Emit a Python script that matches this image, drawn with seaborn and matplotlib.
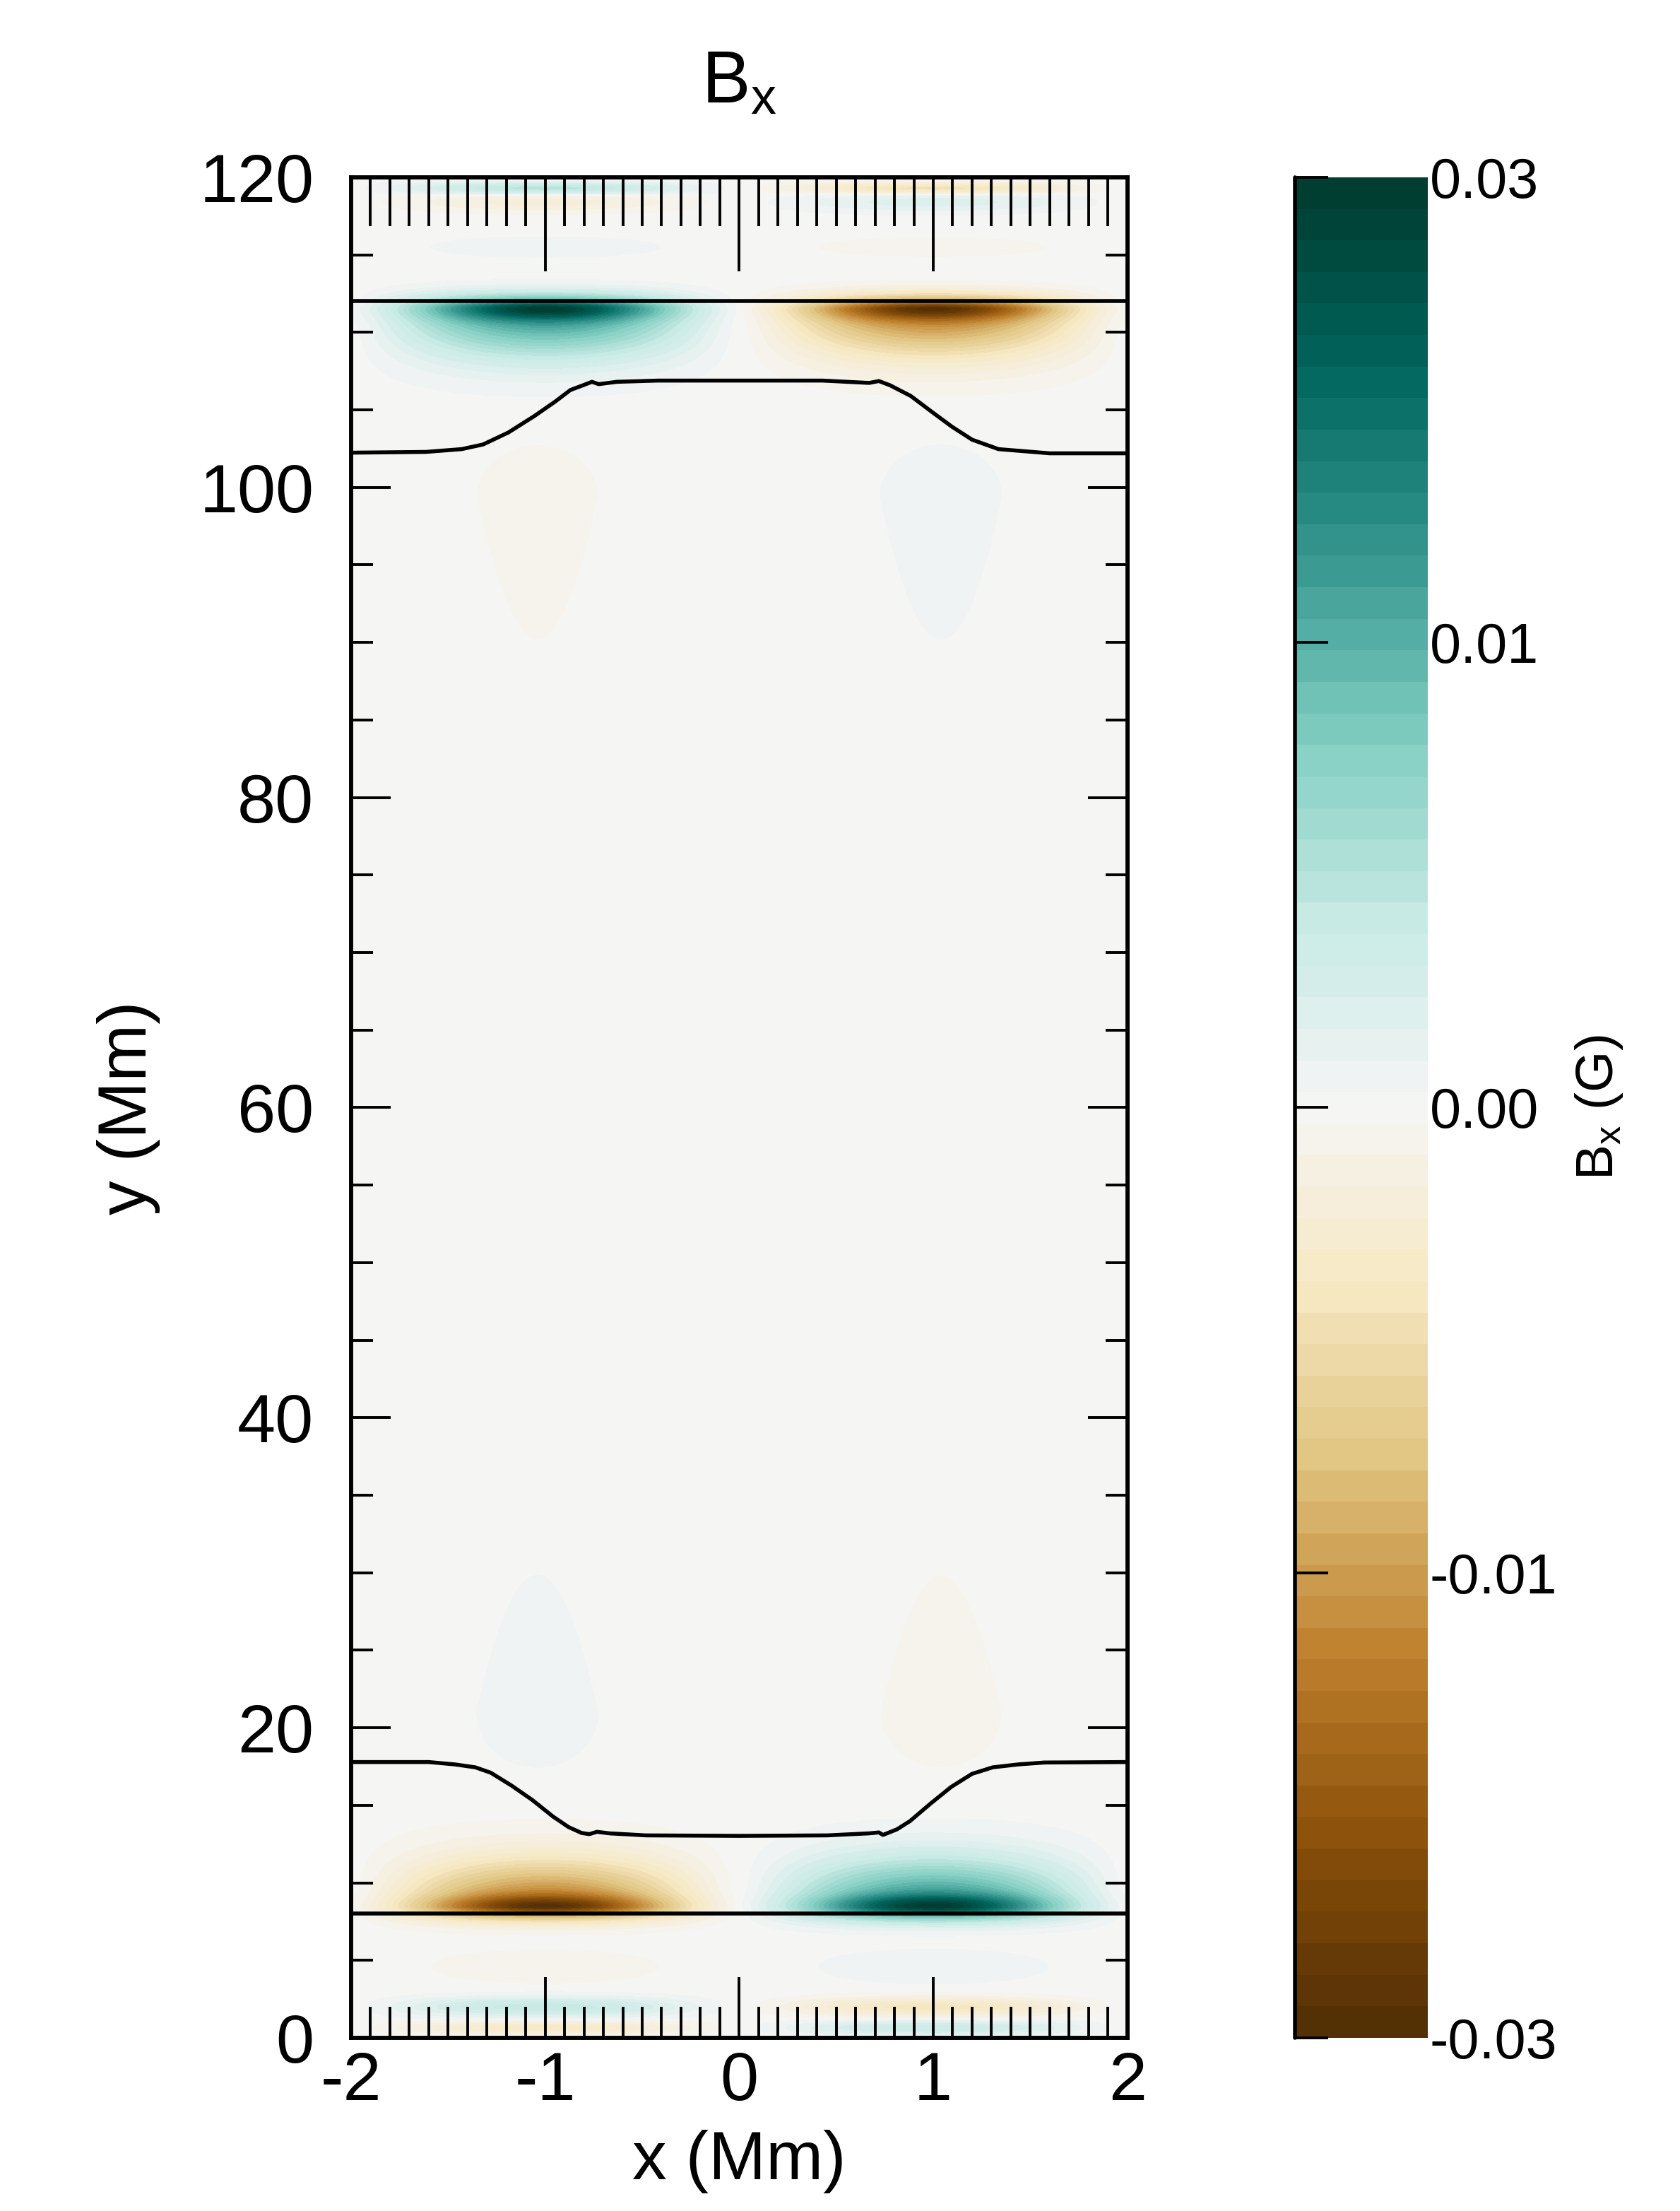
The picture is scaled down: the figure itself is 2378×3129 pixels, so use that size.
import numpy as np
import matplotlib
import matplotlib.pyplot as plt
import seaborn as sns
from matplotlib.colors import BoundaryNorm
from matplotlib.ticker import MultipleLocator

# ==============================
# Data
# ==============================
x_lim = [-2.0, 2.0]
y_lim = [0.0, 120.0]

# the two strong blob pairs next to the lower / upper boundary line
# (sharp core at x=+-1 plus a broad sin(pi x/2)|sin| part)
blob_y0 = [8.48, 111.52]
blob_amp = [0.0295, -0.0295]
blob_core_frac = [0.55, 0.55]
blob_core_sx = [0.45, 0.45]
blob_core_sdown = [0.4, 0.65]
blob_core_sup = [0.65, 0.4]
blob_broad_sdown = [0.8, 2.4]
blob_broad_sup = [2.4, 0.8]

# weak horizontal layers, each ~ amp * sin(pi x/2)|sin(pi x/2)| * gauss(dy)
# centre height (Mm), amplitude (G), width below / above (Mm)
layer_y0 = [4.6, 2.0, 0.65, 115.5, 118.4, 119.3]
layer_amp = [1.3e-4, -0.0025, 0.002, -1.3e-4, 8e-4, -0.003]
layer_sdown = [1.1, 0.5, 0.35, 0.65, 0.5, 0.3]
layer_sup = [1.1, 0.5, 0.35, 0.65, 0.5, 0.3]

# faint teardrops at x = +-1
drop_y0 = [21.0, 99.4]
drop_amp = [-1.5e-4, 1.5e-4]
drop_near = [3.3, 3.1]     # gaussian width toward the boundary
drop_far = [7.6, 7.9]      # e-folding length toward the middle
drop_x0 = 1.04
drop_sx = 0.29
drop_dir = [1, -1]         # +1: tail goes up, -1: tail goes down

# black contour lines
bound_y = [8.0, 112.0]
low_x = [-2.0, -1.6, -1.467, -1.36, -1.28, -1.173, -1.067, -0.96, -0.88, -0.813,
         -0.773, -0.733, -0.667, -0.48, 0.0, 0.453, 0.667, 0.72, 0.741, 0.813,
         0.88, 0.987, 1.093, 1.2, 1.307, 1.44, 1.573, 2.0]
low_y = [17.79, 17.79, 17.64, 17.45, 17.10, 16.27, 15.35, 14.28, 13.60, 13.22,
         13.14, 13.29, 13.19, 13.06, 13.03, 13.06, 13.19, 13.25, 13.09, 13.45,
         13.98, 15.12, 16.19, 17.03, 17.45, 17.64, 17.76, 17.79]
high_x = [-2.0, -1.615, -1.43, -1.32, -1.19, -1.056, -0.95, -0.87, -0.79, -0.759,
          -0.724, -0.631, -0.42, 0.0, 0.43, 0.67, 0.72, 0.777, 0.884, 0.99,
          1.096, 1.2, 1.336, 1.6, 2.0]
high_y = [102.24, 102.29, 102.47, 102.77, 103.54, 104.6, 105.52, 106.28, 106.66, 106.81,
          106.66, 106.81, 106.89, 106.89, 106.89, 106.74, 106.86, 106.59, 105.9, 104.9,
          103.92, 103.08, 102.47, 102.2, 102.2]

cbar_ticks = [-0.03, -0.01, 0.0, 0.01, 0.03]
cbar_labels = ['-0.03', '-0.01', '0.00', '0.01', '0.03']

# ==============================
# Field on a grid
# ==============================
x = np.linspace(x_lim[0], x_lim[1], 401)
y = np.linspace(y_lim[0], y_lim[1], 2401)
X, Y = np.meshgrid(x, y)
sx = np.sin(np.pi * X / 2)
prof = sx * np.abs(sx)


def side_gauss(dy, s_down, s_up):
    s = np.where(dy < 0, s_down, s_up)
    return np.exp(-(dy / s) ** 2)


bx = np.zeros_like(X)
for i in range(len(blob_y0)):
    dy = Y - blob_y0[i]
    core_x = (np.exp(-((X - 1) / blob_core_sx[i]) ** 2)
              - np.exp(-((X + 1) / blob_core_sx[i]) ** 2))
    core = core_x * side_gauss(dy, blob_core_sdown[i], blob_core_sup[i])
    broad = prof * side_gauss(dy, blob_broad_sdown[i], blob_broad_sup[i])
    f = blob_core_frac[i]
    bx += blob_amp[i] * (f * core + (1 - f) * broad)

for y0, amp, sd, su in zip(layer_y0, layer_amp, layer_sdown, layer_sup):
    bx += amp * prof * side_gauss(Y - y0, sd, su)

drop_x = np.sign(X) * np.exp(-((np.abs(X) - drop_x0) / drop_sx) ** 2)
for y0, amp, sn, lf, d in zip(drop_y0, drop_amp, drop_near, drop_far, drop_dir):
    dy = (Y - y0) * d
    fy = np.where(dy < 0, np.exp(-(dy / sn) ** 2), np.exp(-np.clip(dy, 0, None) / lf))
    bx += amp * drop_x * fy

# contour levels: uniform in u, value = 0.03*sign(u)|u|^p so 0.01 sits half way
p = np.log(3) / np.log(2)
u = np.linspace(-1, 1, 60)
levels = 0.03 * np.sign(u) * np.abs(u) ** p

# ==============================
# Plot
# ==============================
sns.set_style("white")
plt.rcParams['font.family'] = ['Liberation Sans', 'DejaVu Sans']
plt.rcParams['mathtext.fontset'] = 'custom'
plt.rcParams['mathtext.rm'] = 'Liberation Sans'
plt.rcParams['mathtext.it'] = 'Liberation Sans'
plt.rcParams['axes.unicode_minus'] = False
plt.rcParams['axes.axisbelow'] = False
plt.rcParams['text.color'] = 'black'
plt.rcParams['axes.labelcolor'] = 'black'
plt.rcParams['xtick.color'] = 'black'
plt.rcParams['ytick.color'] = 'black'

cmap = matplotlib.colormaps['BrBG']
norm = BoundaryNorm(levels, ncolors=cmap.N)

fig = plt.figure(figsize=(11.89, 15.645), dpi=200)
ax = fig.add_axes([0.209, 0.0783, 0.462, 0.8415])
cax = fig.add_axes([0.7708, 0.0783, 0.0791, 0.8415])

cf = ax.contourf(X, Y, bx, levels=levels, cmap=cmap, norm=norm)

for yb in bound_y:
    sns.lineplot(x=x_lim, y=[yb, yb], color='black', lw=2.0, ax=ax)
sns.lineplot(x=low_x, y=low_y, sort=False, estimator=None, color='black', lw=2.0, ax=ax)
sns.lineplot(x=high_x, y=high_y, sort=False, estimator=None, color='black', lw=2.0, ax=ax)

ax.set_xlim(x_lim)
ax.set_ylim(y_lim)
for sp in ax.spines.values():
    sp.set_visible(True)
    sp.set_linewidth(2.0)
    sp.set_color('black')

ax.xaxis.set_major_locator(MultipleLocator(1))
ax.xaxis.set_minor_locator(MultipleLocator(0.1))
ax.yaxis.set_major_locator(MultipleLocator(20))
ax.yaxis.set_minor_locator(MultipleLocator(5))
ax.tick_params(axis='x', which='major', direction='in', length=31, width=1.4,
               top=False, bottom=True, labelsize=35, pad=6.5)
ax.tick_params(axis='x', which='minor', direction='in', length=16, width=1.4,
               top=False, bottom=True)
ax.tick_params(axis='y', which='major', direction='in', length=20, width=1.4,
               left=True, right=True, labelsize=35, pad=19)
ax.tick_params(axis='y', which='minor', direction='in', length=11, width=1.4,
               left=True, right=True)

# top ticks are longer than the bottom ones
ax_top = ax.twiny()
ax_top.set_xlim(x_lim)
ax_top.patch.set_visible(False)
ax_top.xaxis.set_major_locator(MultipleLocator(1))
ax_top.xaxis.set_minor_locator(MultipleLocator(0.1))
ax_top.tick_params(axis='x', which='both', top=True, bottom=False, labeltop=False,
                   labelbottom=False, direction='in', width=1.4, color='black')
ax_top.tick_params(axis='x', which='major', length=48)
ax_top.tick_params(axis='x', which='minor', length=25)
for sp in ax_top.spines.values():
    sp.set_linewidth(2.0)
    sp.set_color('black')

ax.set_xlabel("x (Mm)", fontsize=35, labelpad=8)
ax.set_ylabel("y (Mm)", fontsize=35, labelpad=20)
ax_top.set_title(r"B$_\mathrm{x}$", fontsize=37, pad=38)

cb = fig.colorbar(cf, cax=cax, ticks=cbar_ticks)
cb.outline.set_visible(False)
cb.ax.set_yticklabels(cbar_labels)
cax.set_axisbelow(False)
cax.tick_params(axis='y', which='both', left=True, right=False, labelleft=False,
                labelright=True, direction='in', length=17, width=1.4, labelsize=28.5, pad=1)
cax.minorticks_off()
cax.axvline(0, color='black', lw=2.0, clip_on=False)
cax.text(2.29, 0.5, r"B$_\mathrm{x}$ (G)", transform=cax.transAxes, rotation=90,
         ha='center', va='center', fontsize=27)

plt.savefig("out.png", dpi=200)
